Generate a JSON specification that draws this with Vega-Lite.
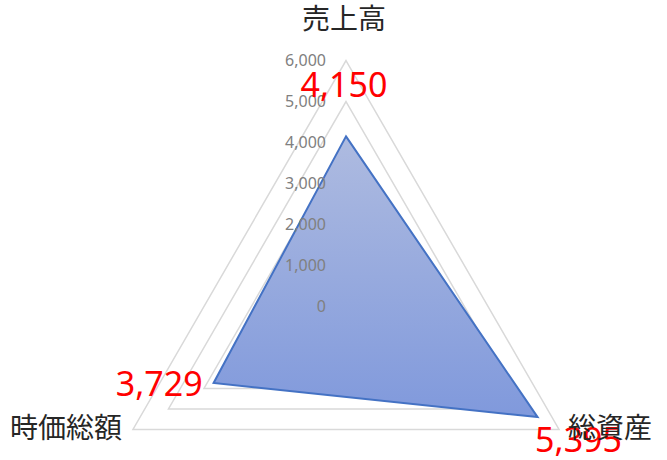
{
  "$schema": "https://vega.github.io/schema/vega-lite/v6.json",
  "width": 667,
  "height": 460,
  "padding": 0,
  "autosize": {"type": "none"},
  "background": "white",
  "config": {"view": {"stroke": null}},
  "datasets": {
    "series": [
      {"axis": "売上高", "idx": 0, "value": 4150, "label": "4,150"},
      {"axis": "総資産", "idx": 1, "value": 5395, "label": "5,395"},
      {"axis": "時価総額", "idx": 2, "value": 3729, "label": "3,729"}
    ],
    "grid": [
      {"ring": 1000, "idx": 0}, {"ring": 1000, "idx": 1}, {"ring": 1000, "idx": 2},
      {"ring": 2000, "idx": 0}, {"ring": 2000, "idx": 1}, {"ring": 2000, "idx": 2},
      {"ring": 3000, "idx": 0}, {"ring": 3000, "idx": 1}, {"ring": 3000, "idx": 2},
      {"ring": 4000, "idx": 0}, {"ring": 4000, "idx": 1}, {"ring": 4000, "idx": 2},
      {"ring": 5000, "idx": 0}, {"ring": 5000, "idx": 1}, {"ring": 5000, "idx": 2},
      {"ring": 6000, "idx": 0}, {"ring": 6000, "idx": 1}, {"ring": 6000, "idx": 2}
    ],
    "ticks": [
      {"v": 0, "t": "0"}, {"v": 1000, "t": "1,000"}, {"v": 2000, "t": "2,000"},
      {"v": 3000, "t": "3,000"}, {"v": 4000, "t": "4,000"}, {"v": 5000, "t": "5,000"},
      {"v": 6000, "t": "6,000"}
    ],
    "cats": [
      {"axis": "売上高", "idx": 0},
      {"axis": "総資産", "idx": 1},
      {"axis": "時価総額", "idx": 2}
    ]
  },
  "layer": [
    {
      "data": {"name": "grid"},
      "transform": [
        {"calculate": "(90 - datum.idx * 120) * PI / 180", "as": "a"},
        {"calculate": "datum.ring * cos(datum.a)", "as": "x"},
        {"calculate": "datum.ring * sin(datum.a)", "as": "y"}
      ],
      "mark": {"type": "line", "interpolate": "linear-closed", "stroke": "#d9d9d9", "strokeWidth": 1.5},
      "encoding": {
        "x": {"field": "x", "type": "quantitative", "scale": {"domain": [-8439, 7829], "nice": false, "zero": false}, "axis": null},
        "y": {"field": "y", "type": "quantitative", "scale": {"domain": [-3744, 7476], "nice": false, "zero": false}, "axis": null},
        "detail": {"field": "ring"},
        "order": {"field": "idx"}
      }
    },
    {
      "data": {"name": "series"},
      "transform": [
        {"calculate": "(90 - datum.idx * 120) * PI / 180", "as": "a"},
        {"calculate": "datum.value * cos(datum.a)", "as": "x"},
        {"calculate": "datum.value * sin(datum.a)", "as": "y"}
      ],
      "mark": {
        "type": "line",
        "interpolate": "linear-closed",
        "stroke": "#4472c4",
        "strokeWidth": 2,
        "fill": {"gradient": "linear", "x1": 0, "y1": 0, "x2": 0, "y2": 1, "stops": [{"offset": 0, "color": "#aebbe0"}, {"offset": 1, "color": "#8099dc"}]},
        "fillOpacity": 1
      },
      "encoding": {
        "x": {"field": "x", "type": "quantitative"},
        "y": {"field": "y", "type": "quantitative"},
        "order": {"field": "idx"}
      }
    },
    {
      "data": {"name": "ticks"},
      "transform": [{"calculate": "0", "as": "x"}],
      "mark": {"type": "text", "align": "right", "baseline": "middle", "dx": -20, "font": "Noto Sans", "fontSize": 16, "color": "#808080"},
      "encoding": {
        "x": {"field": "x", "type": "quantitative"},
        "y": {"field": "v", "type": "quantitative"},
        "text": {"field": "t"}
      }
    },
    {
      "data": {"name": "series"},
      "transform": [
        {"filter": "datum.idx == 0"},
        {"calculate": "(90 - datum.idx * 120) * PI / 180", "as": "a"},
        {"calculate": "datum.value * cos(datum.a)", "as": "x"},
        {"calculate": "datum.value * sin(datum.a)", "as": "y"}
      ],
      "mark": {"type": "text", "align": "center", "baseline": "middle", "dx": -2, "dy": -49, "font": "Noto Sans", "fontSize": 34, "color": "#ff0000"},
      "encoding": {
        "x": {"field": "x", "type": "quantitative"},
        "y": {"field": "y", "type": "quantitative"},
        "text": {"field": "label"}
      }
    },
    {
      "data": {"name": "series"},
      "transform": [
        {"filter": "datum.idx == 1"},
        {"calculate": "(90 - datum.idx * 120) * PI / 180", "as": "a"},
        {"calculate": "datum.value * cos(datum.a)", "as": "x"},
        {"calculate": "datum.value * sin(datum.a)", "as": "y"}
      ],
      "mark": {"type": "text", "align": "center", "baseline": "middle", "dx": 41, "dy": 25, "font": "Noto Sans", "fontSize": 34, "color": "#ff0000"},
      "encoding": {
        "x": {"field": "x", "type": "quantitative"},
        "y": {"field": "y", "type": "quantitative"},
        "text": {"field": "label"}
      }
    },
    {
      "data": {"name": "series"},
      "transform": [
        {"filter": "datum.idx == 2"},
        {"calculate": "(90 - datum.idx * 120) * PI / 180", "as": "a"},
        {"calculate": "datum.value * cos(datum.a)", "as": "x"},
        {"calculate": "datum.value * sin(datum.a)", "as": "y"}
      ],
      "mark": {"type": "text", "align": "right", "baseline": "middle", "dx": -11, "dy": 3, "font": "Noto Sans", "fontSize": 34, "color": "#ff0000"},
      "encoding": {
        "x": {"field": "x", "type": "quantitative"},
        "y": {"field": "y", "type": "quantitative"},
        "text": {"field": "label"}
      }
    },
    {
      "data": {"name": "cats"},
      "transform": [
        {"filter": "datum.idx == 0"},
        {"calculate": "(90 - datum.idx * 120) * PI / 180", "as": "a"},
        {"calculate": "6000 * cos(datum.a)", "as": "x"},
        {"calculate": "6000 * sin(datum.a)", "as": "y"}
      ],
      "mark": {"type": "text", "align": "center", "baseline": "middle", "dx": -2, "dy": -40, "font": "Noto Sans CJK JP", "fontSize": 28, "color": "#262626"},
      "encoding": {
        "x": {"field": "x", "type": "quantitative"},
        "y": {"field": "y", "type": "quantitative"},
        "text": {"field": "axis"}
      }
    },
    {
      "data": {"name": "cats"},
      "transform": [
        {"filter": "datum.idx == 1"},
        {"calculate": "(90 - datum.idx * 120) * PI / 180", "as": "a"},
        {"calculate": "6000 * cos(datum.a)", "as": "x"},
        {"calculate": "6000 * sin(datum.a)", "as": "y"}
      ],
      "mark": {"type": "text", "align": "left", "baseline": "middle", "dx": 9, "dy": 1, "font": "Noto Sans CJK JP", "fontSize": 28, "color": "#262626"},
      "encoding": {
        "x": {"field": "x", "type": "quantitative"},
        "y": {"field": "y", "type": "quantitative"},
        "text": {"field": "axis"}
      }
    },
    {
      "data": {"name": "cats"},
      "transform": [
        {"filter": "datum.idx == 2"},
        {"calculate": "(90 - datum.idx * 120) * PI / 180", "as": "a"},
        {"calculate": "6000 * cos(datum.a)", "as": "x"},
        {"calculate": "6000 * sin(datum.a)", "as": "y"}
      ],
      "mark": {"type": "text", "align": "right", "baseline": "middle", "dx": -11, "dy": 1, "font": "Noto Sans CJK JP", "fontSize": 28, "color": "#262626"},
      "encoding": {
        "x": {"field": "x", "type": "quantitative"},
        "y": {"field": "y", "type": "quantitative"},
        "text": {"field": "axis"}
      }
    }
  ]
}
